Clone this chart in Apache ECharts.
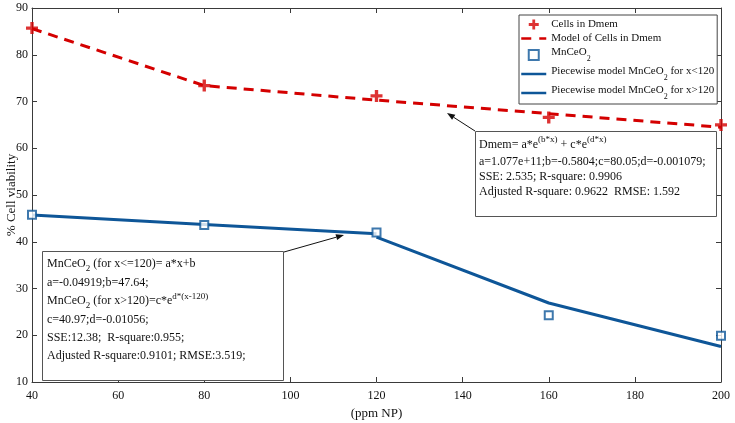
<!DOCTYPE html>
<html>
<head>
<meta charset="utf-8">
<script src="https://cdn.jsdelivr.net/npm/echarts@6/dist/echarts.min.js"></script>
<style>html,body{margin:0;padding:0;background:#fff;}#c{width:735px;height:423px;}</style>
</head>
<body>
<div id="c"></div>
<script>
// ---- data ----
const xTicks = [40, 60, 80, 100, 120, 140, 160, 180, 200];
const yTicks = [10, 20, 30, 40, 50, 60, 70, 80, 90];
const xVals = [40, 80, 120, 160, 200];
const cellsDmem = [85.7, 73.4, 71.2, 66.6, 65.0];
const modelDmem = [85.6, 73.4, 70.3, 67.4, 64.5];
const mnceo2 = [45.8, 43.6, 42.0, 24.3, 19.9];
const pieceX1 = [40, 80, 120];
const pieceY1 = [45.7, 43.7, 41.7];
const pieceX2 = [120, 160, 200];
const pieceY2 = [41.0, 26.9, 17.6];

const RED = '#d40000';
const BLUE = '#0e5698';
const AX = '#3a3a3a';
const FONT = '"Liberation Serif", "Times New Roman", serif';

const zip = (xs, ys) => xs.map((x, i) => [x, ys[i]]);
const plusPath = 'path://M3.6,0 H6.4 V3.6 H10 V6.4 H6.4 V10 H3.6 V6.4 H0 V3.6 H3.6 Z';
const squarePath = 'path://M0,0 H10 V10 H0 Z';

const chart = echarts.init(document.getElementById('c'), null, {renderer: 'canvas'});

function arrow(x1, y1, x2, y2) {
  const a = Math.atan2(y2 - y1, x2 - x1);
  const L = 8, W = 3;
  const bx = x2 - L * Math.cos(a), by = y2 - L * Math.sin(a);
  const px = -Math.sin(a) * W, py = Math.cos(a) * W;
  return [
    {type: 'line', shape: {x1: x1, y1: y1, x2: bx, y2: by}, style: {stroke: '#111', lineWidth: 1}, z: 20},
    {type: 'polygon', shape: {points: [[x2, y2], [bx + px, by + py], [bx - px, by - py]]}, style: {fill: '#111'}, z: 20}
  ];
}

function richSet(lh, lh1) {
  return {
    b: {fontSize: 12, fontFamily: FONT, color: '#111', lineHeight: lh, verticalAlign: 'middle'},
    bt: {fontSize: 12, fontFamily: FONT, color: '#111', lineHeight: lh1, verticalAlign: 'middle'},
    sup: {fontSize: 9, fontFamily: FONT, color: '#111', lineHeight: 9, verticalAlign: 'top'},
    sub: {fontSize: 9, fontFamily: FONT, color: '#111', lineHeight: 9, verticalAlign: 'bottom'}
  };
}

const box1Text = [
  '{bt|Dmem= a*e}{sup|(b*x)}{bt| + c*e}{sup|(d*x)}',
  '{b|a=1.077e+11;b=-0.5804;c=80.05;d=-0.001079;}',
  '{b|SSE: 2.535; R-square: 0.9906}',
  '{b|Adjusted R-square: 0.9622  RMSE: 1.592}'
].join('\n');

const box2Text = [
  '{bt|MnCeO}{sub|2}{bt| (for x<=120)= a*x+b}',
  '{b|a=-0.04919;b=47.64;}',
  '{bt|MnCeO}{sub|2}{bt| (for x>120)=c*e}{sup|d*(x-120)}',
  '{b|c=40.97;d=-0.01056;}',
  '{b|SSE:12.38;  R-square:0.955;}',
  '{b|Adjusted R-square:0.9101; RMSE:3.519;}'
].join('\n');

const legendRich = {
  t: {fontSize: 11, fontFamily: FONT, color: '#111', lineHeight: 13, verticalAlign: 'middle'},
  ts: {fontSize: 11, fontFamily: FONT, color: '#111', lineHeight: 16, verticalAlign: 'top'},
  s: {fontSize: 8, fontFamily: FONT, color: '#111', lineHeight: 8, verticalAlign: 'bottom'}
};
const legendFmt = {
  'Cells in Dmem': '{t|Cells in Dmem}',
  'Model of Cells in Dmem': '{t|Model of Cells in Dmem}',
  'MnCeO2': '{ts|MnCeO}{s|2}',
  'Piecewise model MnCeO2 for x<120': '{ts|Piecewise model MnCeO}{s|2}{ts| for x<120}',
  'Piecewise model MnCeO2 for x>120': '{ts|Piecewise model MnCeO}{s|2}{ts| for x>120}'
};

const axisCommon = {
  axisLine: {show: true, onZero: false, lineStyle: {color: AX, width: 1}},
  axisTick: {show: true, inside: true, length: 5, lineStyle: {color: AX}},
  splitLine: {show: false}
};

const option = {
  backgroundColor: '#fff',
  animation: false,
  grid: {left: 32, right: 14, top: 8, bottom: 41, containLabel: false, outerBoundsMode: 'none'},
  legend: {
    orient: 'vertical', left: 519, top: 15,
    padding: [4, 3, 3, 1], itemGap: 3,
    itemWidth: 25, itemHeight: 10,
    borderColor: '#444', borderWidth: 1, backgroundColor: '#fff',
    textStyle: {fontFamily: FONT, fontSize: 11, color: '#111', rich: legendRich},
    formatter: n => legendFmt[n] || n,
    data: [
      {name: 'Cells in Dmem'},
      {name: 'Model of Cells in Dmem', itemStyle: {opacity: 0}, lineStyle: {type: [10, 8], width: 2.5, color: RED}},
      {name: 'MnCeO2'},
      {name: 'Piecewise model MnCeO2 for x<120', itemStyle: {opacity: 0}, lineStyle: {width: 2.5, color: BLUE}},
      {name: 'Piecewise model MnCeO2 for x>120', itemStyle: {opacity: 0}, lineStyle: {width: 2.5, color: BLUE}}
    ],
    z: 30
  },
  xAxis: [
    Object.assign({}, axisCommon, {
      type: 'value', min: xTicks[0], max: xTicks[xTicks.length - 1], interval: 20, position: 'bottom',
      name: '(ppm NP)', nameLocation: 'middle', nameGap: 22,
      nameTextStyle: {fontFamily: FONT, fontSize: 13, color: '#111'},
      axisLabel: {fontFamily: FONT, fontSize: 12, color: '#111', margin: 8}
    }),
    Object.assign({}, axisCommon, {
      type: 'value', min: xTicks[0], max: xTicks[xTicks.length - 1], interval: 20, position: 'top',
      axisLabel: {show: false}
    })
  ],
  yAxis: [
    Object.assign({}, axisCommon, {
      type: 'value', min: yTicks[0], max: yTicks[yTicks.length - 1], interval: 10, position: 'left',
      name: '% Cell viability', nameLocation: 'middle', nameGap: 14, nameRotate: 90, nameMoveOverlap: false,
      nameTextStyle: {fontFamily: FONT, fontSize: 13, color: '#111'},
      axisLabel: {fontFamily: FONT, fontSize: 12, color: '#111', margin: 4}
    }),
    Object.assign({}, axisCommon, {
      type: 'value', min: yTicks[0], max: yTicks[yTicks.length - 1], interval: 10, position: 'right',
      axisLabel: {show: false}
    })
  ],
  series: [
    {
      name: 'Cells in Dmem', type: 'scatter', symbol: plusPath, symbolSize: 12, symbolKeepAspect: true,
      itemStyle: {color: RED}, data: zip(xVals, cellsDmem), z: 5
    },
    {
      name: 'Model of Cells in Dmem', type: 'line', symbol: 'none', showSymbol: false,
      lineStyle: {color: RED, width: 3, type: [10, 7]}, itemStyle: {color: RED},
      data: zip(xVals, modelDmem), z: 4
    },
    {
      name: 'MnCeO2', type: 'scatter', symbol: squarePath, symbolSize: 8, symbolKeepAspect: true,
      itemStyle: {color: '#fff', borderColor: BLUE, borderWidth: 2}, data: zip(xVals, mnceo2), z: 5
    },
    {
      name: 'Piecewise model MnCeO2 for x<120', type: 'line', symbol: 'none', showSymbol: false,
      lineStyle: {color: BLUE, width: 3}, itemStyle: {color: BLUE},
      data: zip(pieceX1, pieceY1), z: 3
    },
    {
      name: 'Piecewise model MnCeO2 for x>120', type: 'line', symbol: 'none', showSymbol: false,
      lineStyle: {color: BLUE, width: 3}, itemStyle: {color: BLUE},
      data: zip(pieceX2, pieceY2), z: 3
    }
  ],
  graphic: [
    {type: 'rect', shape: {x: 475.5, y: 131.5, width: 241, height: 85},
     style: {fill: '#fff', stroke: '#555', lineWidth: 1}, z: 15},
    {type: 'text', x: 479, y: 135, style: {text: box1Text, rich: richSet(15, 19), fontFamily: FONT, fontSize: 12, fill: '#111'}, z: 16},
    {type: 'rect', shape: {x: 42.5, y: 251.5, width: 241, height: 129},
     style: {fill: '#fff', stroke: '#555', lineWidth: 1}, z: 15},
    {type: 'text', x: 47, y: 255, style: {text: box2Text, rich: richSet(18.4, 18.4), fontFamily: FONT, fontSize: 12, fill: '#111'}, z: 16}
  ].concat(arrow(475, 131, 447, 113)).concat(arrow(284, 252, 344, 235))
};

chart.setOption(option);
</script>
</body>
</html>
